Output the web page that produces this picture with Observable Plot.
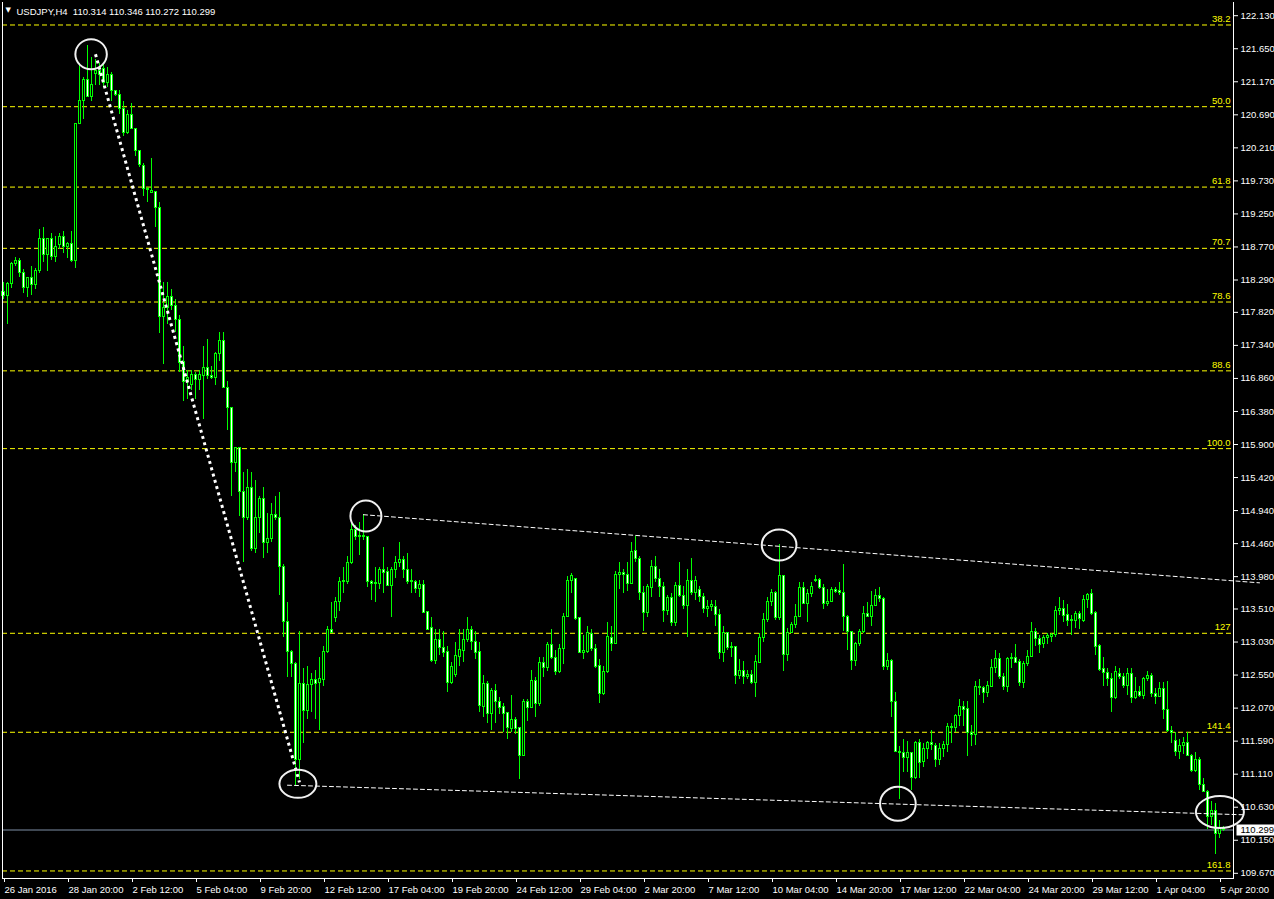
<!DOCTYPE html>
<html><head><meta charset="utf-8">
<script src="https://cdn.jsdelivr.net/npm/d3@7"></script>
<script src="https://cdn.jsdelivr.net/npm/@observablehq/plot@0.6"></script>
<style>html,body{margin:0;padding:0;background:#000;overflow:hidden}</style>
</head><body><div id="chart"></div>
<script>
// ---- USDJPY H4 candles (bar index 0 = 26 Jan 2016 04:00) ----
const open = [
118.12,118.06,118.23,118.52,118.57,118.39,118.17,118.32,118.22,118.42,
118.89,118.65,118.89,118.62,118.80,118.92,118.77,118.81,118.57,120.56,
120.89,121.20,120.95,121.28,121.33,121.36,121.15,121.27,121.04,120.98,
120.77,120.43,120.69,120.48,120.16,119.95,119.61,119.55,119.57,119.34,
117.75,117.88,118.04,117.91,117.71,117.10,116.81,116.76,116.91,116.84,
116.90,117.01,116.90,116.87,117.22,117.40,116.72,116.43,115.63,115.85,
115.21,114.83,115.27,114.38,114.83,115.11,114.47,114.53,114.88,114.83,
114.12,113.32,112.89,112.71,111.32,112.42,112.03,112.41,112.48,112.44,
112.48,112.89,113.21,113.38,113.61,113.90,113.90,114.18,114.66,114.56,
114.57,114.56,113.90,113.87,113.87,114.08,114.05,113.84,114.08,114.18,
114.22,114.08,113.90,113.90,113.80,113.86,113.47,113.23,112.75,113.06,
112.94,112.89,112.44,112.55,112.81,112.90,113.06,113.21,113.03,112.89,
112.09,112.42,111.98,112.32,112.16,112.09,112.00,111.77,111.90,111.78,
111.37,112.16,112.07,112.46,112.13,112.73,112.65,112.99,112.80,112.60,
112.93,113.39,113.92,113.95,113.38,112.87,112.89,113.15,112.93,112.68,
112.28,112.60,113.09,113.00,114.00,114.03,114.00,113.87,114.35,114.24,
113.74,113.45,113.82,114.12,113.95,113.83,113.48,113.67,113.31,113.84,
113.70,113.55,113.92,113.74,113.79,113.68,113.51,113.54,113.54,113.42,
112.87,113.16,112.94,112.96,112.54,112.61,112.52,112.55,112.44,112.73,
113.09,113.35,113.61,113.74,113.38,113.99,112.84,113.16,113.28,113.39,
113.82,113.58,113.73,113.92,113.93,113.82,113.58,113.61,113.79,113.77,
113.74,113.39,113.18,112.75,113.00,113.18,113.44,113.39,113.55,113.70,
113.66,112.67,112.75,112.16,111.43,111.42,111.35,111.42,111.05,111.56,
111.29,111.48,111.56,111.52,111.32,111.48,111.53,111.80,111.78,111.96,
112.09,112.06,111.71,111.68,112.38,112.36,112.29,112.38,112.65,112.78,
112.52,112.38,112.78,112.80,112.74,112.44,112.71,112.81,113.18,113.07,
113.00,113.09,113.10,113.13,113.48,113.51,113.42,113.34,113.34,113.44,
113.34,113.64,113.73,113.45,112.97,112.64,112.58,112.49,112.22,112.57,
112.52,112.39,112.57,112.22,112.30,112.25,112.49,112.54,112.28,112.23,
112.35,112.04,111.74,111.59,111.43,111.52,111.56,111.37,111.16,111.32,
110.95,110.85,110.49,110.58,110.24,110.314];
const high = [
118.25,118.25,118.55,118.61,118.60,118.44,118.32,118.48,118.46,119.02,
119.06,118.89,118.96,118.92,118.96,118.99,118.84,118.99,120.56,121.43,
121.23,121.69,121.52,121.49,121.43,121.44,121.38,121.31,121.05,121.05,
120.88,120.75,120.86,120.48,120.16,119.98,119.64,120.05,119.57,119.41,
118.25,118.25,118.15,118.00,117.78,117.32,116.98,116.98,116.95,116.98,
117.32,117.43,117.03,117.23,117.52,117.53,116.81,116.43,115.85,115.85,
115.49,115.54,115.49,115.38,115.14,115.27,114.90,115.05,115.14,115.20,
114.15,113.60,112.91,112.73,113.18,112.65,112.67,112.58,112.62,112.80,
112.96,113.25,113.60,113.68,113.97,114.11,114.27,114.76,114.73,114.76,
114.88,114.56,113.93,114.12,114.12,114.40,114.11,114.11,114.27,114.48,
114.27,114.32,114.08,113.93,113.93,113.93,113.47,113.39,113.21,113.21,
113.18,112.96,112.73,113.03,113.21,113.21,113.38,113.25,113.18,113.03,
112.55,112.45,112.35,112.41,112.23,112.14,112.01,112.26,111.94,111.78,
112.19,112.19,112.62,112.52,112.80,112.81,113.02,113.21,112.91,112.99,
113.45,113.98,114.03,113.96,113.39,113.13,113.25,113.21,112.99,112.77,
112.67,113.32,113.25,114.05,114.18,114.08,114.19,114.47,114.56,114.27,
113.83,113.86,114.22,114.27,114.08,113.89,113.71,113.74,113.89,114.19,
113.83,114.08,114.25,113.98,113.83,113.74,113.64,113.64,113.64,113.50,
113.25,113.16,113.02,112.96,112.77,112.74,112.62,112.62,112.84,113.16,
113.45,113.68,113.79,113.76,114.44,113.99,113.23,113.31,113.57,113.90,
113.90,113.79,113.90,114.00,113.96,113.86,113.79,113.82,113.82,113.89,
114.16,113.42,113.18,113.03,113.21,113.54,113.60,113.76,113.79,113.82,
113.67,112.87,112.77,112.29,111.51,111.62,111.58,111.43,111.58,111.61,
111.56,111.58,111.75,111.56,111.56,111.58,111.85,111.85,111.97,112.20,
112.16,112.16,111.82,112.45,112.48,112.39,112.45,112.77,112.90,112.87,
112.58,112.81,112.87,113.00,112.77,112.74,112.90,113.32,113.22,113.13,
113.13,113.16,113.16,113.54,113.67,113.64,113.57,113.41,113.47,113.47,
113.71,113.74,113.80,113.47,112.99,112.80,112.65,112.58,112.67,112.65,
112.58,112.65,112.64,112.51,112.38,112.52,112.60,112.58,112.36,112.44,
112.44,112.45,111.80,111.72,111.61,111.65,111.72,111.39,111.42,111.35,
111.05,110.88,110.71,110.69,110.44,110.346];
const low = [
118.00,117.64,118.17,118.49,118.33,118.10,118.04,118.06,118.15,118.39,
118.54,118.41,118.58,118.55,118.73,118.68,118.60,118.54,118.45,120.56,
120.62,120.95,120.89,121.12,121.12,121.09,121.09,120.88,120.95,120.69,
120.37,120.41,120.47,120.08,119.92,119.50,119.41,119.55,119.06,117.51,
117.06,117.64,117.85,117.52,116.94,116.52,116.55,116.69,116.55,116.69,
116.26,116.84,116.84,116.76,117.10,116.72,116.11,115.15,115.49,114.85,
114.19,114.80,114.34,114.32,114.61,114.25,114.32,114.47,114.80,113.71,
113.10,112.52,112.52,110.95,111.03,111.56,111.90,112.01,111.90,111.75,
112.38,112.87,113.16,113.32,113.47,113.74,113.86,114.15,114.51,114.29,
114.51,113.82,113.64,113.60,113.79,113.74,113.83,113.38,113.96,114.12,
113.96,113.86,113.74,113.74,113.67,113.44,113.21,112.73,112.70,112.84,
112.81,112.29,112.41,112.51,112.67,112.73,113.03,112.91,112.77,112.00,
111.94,111.85,111.75,111.85,111.97,111.72,111.61,111.71,111.68,111.03,
111.36,111.87,112.07,111.94,112.09,112.52,112.60,112.77,112.54,112.58,
112.70,113.38,113.74,113.35,112.87,112.77,112.87,112.89,112.65,112.14,
112.26,112.58,112.89,112.99,113.79,113.74,113.76,113.86,114.19,113.64,
113.19,113.39,113.68,113.90,113.68,113.31,113.42,113.25,113.25,113.67,
113.50,113.10,113.71,113.64,113.61,113.45,113.39,113.47,113.25,112.77,
112.73,112.91,112.81,112.41,112.48,112.41,112.48,112.41,112.22,112.73,
113.02,113.31,113.55,113.35,113.35,112.60,112.74,113.16,113.23,113.38,
113.57,113.32,113.68,113.89,113.79,113.50,113.54,113.60,113.74,113.71,
113.18,112.91,112.61,112.67,112.96,113.16,113.38,113.25,113.54,113.61,
112.62,112.62,111.94,111.42,110.74,111.13,111.13,110.88,111.03,111.05,
111.21,111.32,111.46,111.21,111.24,111.35,111.42,111.56,111.71,111.81,
111.81,111.36,111.51,111.53,112.25,112.13,112.22,112.38,112.58,112.48,
112.32,112.29,112.64,112.73,112.38,112.36,112.68,112.80,112.97,112.87,
112.94,113.00,113.02,113.10,113.42,113.31,113.25,113.13,113.23,113.21,
113.31,113.52,113.42,112.84,112.60,112.38,112.38,112.00,112.19,112.48,
112.36,112.26,112.14,112.19,112.22,112.19,112.45,112.22,112.12,112.22,
111.90,111.72,111.56,111.36,111.32,111.39,111.36,111.13,111.13,110.88,
110.84,110.30,110.37,109.94,110.17,110.272];
const close = [
118.06,118.23,118.52,118.57,118.39,118.17,118.32,118.22,118.42,118.89,
118.65,118.89,118.62,118.77,118.92,118.77,118.81,118.57,120.56,120.89,
121.20,120.95,121.12,121.33,121.27,121.15,121.27,121.04,120.98,120.77,
120.43,120.69,120.48,120.16,119.96,119.61,119.60,119.58,119.34,117.75,
117.88,118.04,117.91,117.71,117.08,116.81,116.87,116.91,116.84,116.91,
117.01,116.90,116.87,117.22,117.40,116.72,116.43,115.63,115.85,115.21,
114.83,115.27,114.38,114.83,115.11,114.47,114.53,114.88,114.83,114.12,
113.32,112.89,112.71,111.32,112.42,112.03,112.41,112.48,112.42,112.49,
112.89,113.21,113.16,113.61,113.90,113.92,114.18,114.66,114.56,114.57,
114.56,113.90,113.87,113.89,114.08,114.03,113.84,114.08,114.18,114.22,
114.08,113.90,113.92,113.80,113.86,113.45,113.21,112.75,113.06,112.94,
112.87,112.44,112.67,112.83,112.91,113.06,113.21,113.03,112.87,112.10,
112.42,111.98,112.32,112.16,112.07,111.98,111.78,111.90,111.77,111.37,
112.16,112.07,112.46,112.13,112.73,112.65,112.99,112.80,112.60,112.93,
113.39,113.92,113.99,113.37,112.87,112.90,113.16,112.93,112.67,112.28,
112.60,113.10,113.00,114.00,114.03,114.00,113.87,114.34,114.24,113.74,
113.45,113.83,114.12,113.95,113.83,113.48,113.67,113.31,113.84,113.70,
113.55,113.92,113.74,113.92,113.68,113.51,113.54,113.57,113.42,112.87,
113.16,112.94,112.96,112.54,112.61,112.52,112.55,112.44,112.74,113.09,
113.35,113.61,113.74,113.38,113.99,112.84,113.16,113.28,113.39,113.82,
113.58,113.73,113.83,113.93,113.82,113.58,113.61,113.79,113.76,113.74,
113.39,113.18,112.75,113.00,113.18,113.44,113.39,113.55,113.70,113.66,
112.67,112.75,112.16,111.43,111.42,111.35,111.42,111.05,111.56,111.27,
111.48,111.56,111.53,111.32,111.48,111.53,111.80,111.78,111.96,112.09,
112.04,111.71,111.68,112.38,112.36,112.29,112.39,112.65,112.78,112.52,
112.38,112.78,112.80,112.73,112.44,112.71,112.81,113.18,113.07,112.99,
113.09,113.12,113.13,113.48,113.51,113.41,113.34,113.35,113.44,113.37,
113.64,113.71,113.44,112.96,112.62,112.58,112.49,112.22,112.60,112.52,
112.39,112.57,112.22,112.30,112.25,112.49,112.54,112.28,112.23,112.35,
112.04,111.74,111.71,111.43,111.52,111.56,111.37,111.16,111.32,110.95,
110.85,110.49,110.58,110.24,110.33,110.299];

// x-axis labels (every 16 bars)
const tickBars = [0,16,32,48,64,80,96,112,128,144,160,176,192,208,224,240,256,272,288,304];
const tickLabels = ["26 Jan 2016","28 Jan 20:00","2 Feb 12:00","5 Feb 04:00","9 Feb 20:00","12 Feb 12:00",
  "17 Feb 04:00","19 Feb 20:00","24 Feb 12:00","29 Feb 04:00","2 Mar 20:00","7 Mar 12:00","10 Mar 04:00",
  "14 Mar 20:00","17 Mar 12:00","22 Mar 04:00","24 Mar 20:00","29 Mar 12:00","1 Apr 04:00","5 Apr 20:00"];
// price axis labels
const priceTicks = [122.130,121.650,121.170,120.690,120.210,119.730,119.250,118.770,118.290,117.820,
  117.340,116.860,116.380,115.900,115.420,114.940,114.460,113.980,113.510,113.030,112.550,112.070,
  111.590,111.110,110.630,110.150,109.670];
// Fibonacci levels
const fibLabels = ["38.2","50.0","61.8","70.7","78.6","88.6","100.0","127","141.4","161.8"];
const fibPrices = [121.995,120.808,119.64,118.75,117.97,116.97,115.84,113.157,111.719,109.704];
// current price
const lastPrice = [110.299];
const titleText = ["USDJPY,H4  110.314 110.346 110.272 110.299"];
// trend lines (bar, price)
const mainTrendBars = [23, 74], mainTrendPrices = [121.57, 110.99];
const upperTrendBars = [90, 314], upperTrendPrices = [114.88, 113.89];
const lowerTrendBars = [71, 310], lowerTrendPrices = [110.95, 110.52];
// circled pivots
const circleBars = [21.9, 90.6, 193.9, 73.6, 223.6, 304.1];
const circlePrices = [121.57, 114.86, 114.44, 110.97, 110.68, 110.56];

// ---- build tables ----
const bars = d3.range(close.length).map(i => ({i, o: open[i], h: high[i], l: low[i], c: close[i]}));
const fib = fibLabels.map((label, k) => ({label, price: fibPrices[k]}));
const pts = (b, p) => b.map((bar, k) => ({bar, price: p[k]}));
const labelMap = new Map(tickBars.map((b, k) => [b, tickLabels[k]]));

function ellipseSymbol(aspect) {
  return {draw(ctx, size) {
    const r = Math.sqrt(size / Math.PI), rx = r * aspect, ry = r, k = 0.5522847498;
    ctx.moveTo(rx, 0);
    ctx.bezierCurveTo(rx, ry * k, rx * k, ry, 0, ry);
    ctx.bezierCurveTo(-rx * k, ry, -rx, ry * k, -rx, 0);
    ctx.bezierCurveTo(-rx, -ry * k, -rx * k, -ry, 0, -ry);
    ctx.bezierCurveTo(rx * k, -ry, rx, -ry * k, rx, 0);
    ctx.closePath();
  }};
}
const boxSymbol = {draw(ctx) { ctx.rect(3, -5.5, 42, 11); }};
const circleStyle = [[15, 1.05], [15.5, 1.0], [15.5, 1.12], [14, 1.32], [17, 1.05], [16, 1.5]];

const LIME = "#00ff00", YEL = "#ffff00";
const chart = Plot.plot({
  width: 1274, height: 899,
  marginLeft: 2, marginRight: 41, marginTop: 2, marginBottom: 21,
  style: {background: "#000", color: "#fff", fontFamily: "'Liberation Sans', Arial, sans-serif", fontSize: "9px"},
  x: {type: "linear", domain: [0, 307], range: [3, 3 + 4 * 307], axis: null},
  y: {type: "linear", domain: [109.670, 122.130], range: [872.8, 15.2], axis: null},
  marks: [
    Plot.ruleY(fib, {y: "price", stroke: YEL, strokeDasharray: "5,3"}),
    Plot.text(fib, {y: "price", text: "label", frameAnchor: "right", textAnchor: "end", dx: -3, dy: -6, fill: YEL, fontSize: 9.5}),
    Plot.ruleY(lastPrice, {y: d => d, stroke: "#7f8fa6"}),
    Plot.ruleX(bars, {x: "i", y1: "l", y2: "h", stroke: LIME, shapeRendering: "crispEdges"}),
    Plot.rect(bars, {
      x1: d => d.i - 0.25, x2: d => d.i + 0.25,
      y1: "o", y2: d => d.c === d.o ? d.c + 0.002 : d.c,
      fill: d => d.c >= d.o ? "#000" : "#fff", stroke: LIME, shapeRendering: "crispEdges"
    }),
    Plot.line(pts(mainTrendBars, mainTrendPrices), {x: "bar", y: "price", stroke: "#fff", strokeWidth: 3, strokeDasharray: "3,3.5", strokeLinecap: "butt"}),
    Plot.line(pts(upperTrendBars, upperTrendPrices), {x: "bar", y: "price", stroke: "#fff", strokeWidth: 1, strokeDasharray: "4,3"}),
    Plot.line(pts(lowerTrendBars, lowerTrendPrices), {x: "bar", y: "price", stroke: "#fff", strokeWidth: 1, strokeDasharray: "4,3"}),
    ...pts(circleBars, circlePrices).map((c, k) =>
      Plot.dot([c], {x: "bar", y: "price", r: circleStyle[k][0], symbol: ellipseSymbol(circleStyle[k][1]), stroke: "#f0f0f0", strokeWidth: 2, fill: "none"})),
    Plot.axisY({anchor: "right", ticks: priceTicks, tickFormat: d => d.toFixed(3), tickSize: 4, tickPadding: 3, label: null, fontSize: 9.5}),
    Plot.axisX({anchor: "bottom", ticks: tickBars, tickFormat: d => labelMap.get(d), tickSize: 4, tickPadding: 4, textAnchor: "start", dx: 1, label: null, fontSize: 9.5}),
    Plot.dot(lastPrice, {y: d => d, frameAnchor: "right", symbol: boxSymbol, r: 1, fill: "#fff", stroke: null}),
    Plot.text(lastPrice, {y: d => d, text: d => d.toFixed(3), frameAnchor: "right", textAnchor: "start", dx: 7, fill: "#000", fontSize: 9.5}),
    Plot.frame({anchor: "left", stroke: "#fff"}),
    Plot.frame({anchor: "right", stroke: "#fff"}),
    Plot.frame({anchor: "bottom", stroke: "#fff"}),
    Plot.text(["\u25BC"], {text: d => d, frameAnchor: "top-left", dx: 3, dy: 5, lineAnchor: "top", fill: "#fff", fontSize: 7, fontFamily: "DejaVu Sans"}),
    Plot.text(titleText, {text: d => d, frameAnchor: "top-left", dx: 14, dy: 6, lineAnchor: "top", textAnchor: "start", fill: "#fff", fontSize: 9.5})
  ]
});
document.getElementById("chart").appendChild(chart);
</script>
</body></html>
